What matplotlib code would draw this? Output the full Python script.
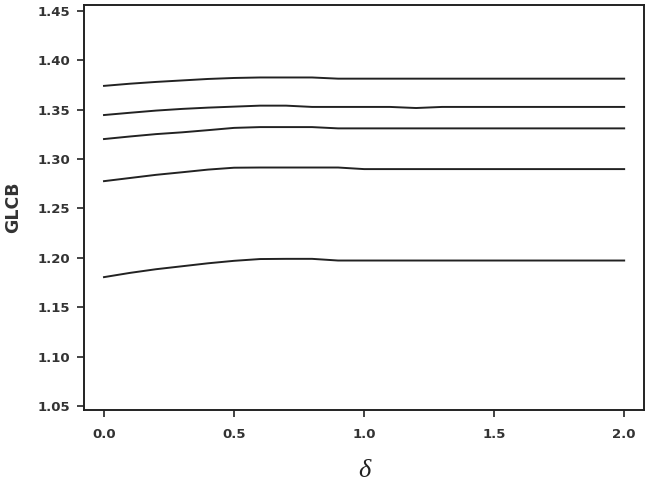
import matplotlib
matplotlib.use("Agg")
import matplotlib.pyplot as plt

delta = [0.0, 0.1, 0.2, 0.3, 0.4, 0.5, 0.6, 0.7, 0.8, 0.9, 1.0,
         1.1, 1.2, 1.3, 1.4, 1.5, 1.6, 1.7, 1.8, 1.9, 2.0]

glcb_1 = [1.3740, 1.3762, 1.3780, 1.3795, 1.3810, 1.3820, 1.3825, 1.3825, 1.3825, 1.3813, 1.3813,
          1.3813, 1.3813, 1.3813, 1.3813, 1.3813, 1.3813, 1.3813, 1.3813, 1.3813, 1.3813]
glcb_2 = [1.3445, 1.3468, 1.3490, 1.3507, 1.3520, 1.3530, 1.3540, 1.3540, 1.3527, 1.3527, 1.3527,
          1.3527, 1.3516, 1.3527, 1.3527, 1.3527, 1.3527, 1.3527, 1.3527, 1.3527, 1.3527]
glcb_3 = [1.3202, 1.3228, 1.3252, 1.3270, 1.3292, 1.3315, 1.3323, 1.3323, 1.3323, 1.3310, 1.3310,
          1.3310, 1.3310, 1.3310, 1.3310, 1.3310, 1.3310, 1.3310, 1.3310, 1.3310, 1.3310]
glcb_4 = [1.2776, 1.2808, 1.2840, 1.2866, 1.2893, 1.2912, 1.2914, 1.2914, 1.2914, 1.2914, 1.2898,
          1.2898, 1.2898, 1.2898, 1.2898, 1.2898, 1.2898, 1.2898, 1.2898, 1.2898, 1.2898]
glcb_5 = [1.1805, 1.1848, 1.1885, 1.1915, 1.1945, 1.1970, 1.1988, 1.1990, 1.1990, 1.1973, 1.1973,
          1.1973, 1.1973, 1.1973, 1.1973, 1.1973, 1.1973, 1.1973, 1.1973, 1.1973, 1.1973]

series = [glcb_1, glcb_2, glcb_3, glcb_4, glcb_5]

xticks = [0.0, 0.5, 1.0, 1.5, 2.0]
xticklabels = ["0.0", "0.5", "1.0", "1.5", "2.0"]
yticks = [1.05, 1.10, 1.15, 1.20, 1.25, 1.30, 1.35, 1.40, 1.45]
yticklabels = ["1.05", "1.10", "1.15", "1.20", "1.25", "1.30", "1.35", "1.40", "1.45"]

plt.rcParams['font.family'] = ['DejaVu Sans']

fig = plt.figure(figsize=(6.56, 4.83), dpi=100)
ax = fig.add_axes([0.128, 0.151, 0.854, 0.839])

for s in series:
    ax.plot(delta, s, color="#222222", lw=1.4)

ax.set_xlim(-0.077, 2.077)
ax.set_ylim(1.046, 1.456)
ax.set_xticks(xticks)
ax.set_xticklabels(xticklabels, fontsize=9.5, fontweight="bold", color="#333333")
ax.set_yticks(yticks)
ax.set_yticklabels(yticklabels, fontsize=9.5, fontweight="bold", color="#333333")
ax.tick_params(direction="out", length=5, width=1.2, color="#222222")
ax.tick_params(axis="x", pad=8)
ax.tick_params(axis="y", pad=5)

for sp in ax.spines.values():
    sp.set_linewidth(1.4)
    sp.set_color("#222222")

ax.set_ylabel("GLCB", fontsize=12.5, fontweight="bold", color="#333333", labelpad=11)

pos = ax.get_position()
fig.text((pos.x0 + pos.x1) / 2, 0.0124, "δ", ha="center", va="baseline",
         fontsize=19, family="Liberation Serif", style="italic", color="#222222")

fig.savefig("out.png", dpi=100)
